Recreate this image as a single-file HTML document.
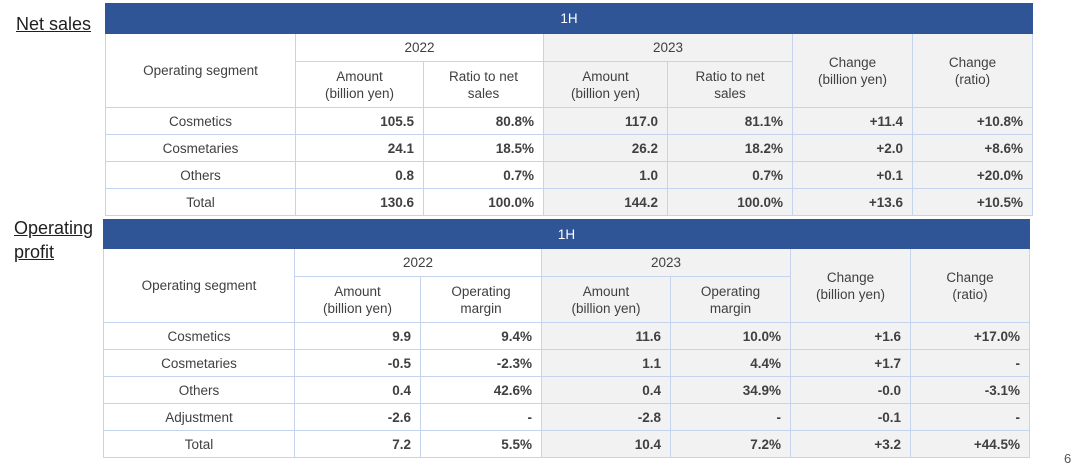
<!DOCTYPE html>
<html><head><meta charset="utf-8"><style>
body{margin:0;width:1080px;height:470px;background:#fff;font-family:"Liberation Sans",sans-serif;position:relative;overflow:hidden;color:#404040}
.t{position:absolute;border-collapse:collapse;table-layout:fixed;font-size:13.5px}
.t td{border:1.5px solid #c5d3ec;padding:0 8px;text-align:center;line-height:17px;overflow:hidden;white-space:nowrap}
.t td.h{background:#2f5597;color:#fff;border-color:#2f5597}
.t td.g{background:#f2f2f2}
.t td.n{text-align:right;font-weight:bold;padding-right:9px}
.lbl{position:absolute;font-size:18px;text-decoration:underline;color:#1f1f1f;line-height:24px}
</style></head><body>
<div class="lbl" style="left:16px;top:12px">Net sales</div>
<div class="lbl" style="left:14px;top:216px">Operating<br>profit</div>
<div style="position:absolute;left:1064px;top:451px;font-size:13px;color:#555">6</div>

<table class="t" style="left:105px;top:3px;width:927px">
<colgroup><col style="width:190px"><col style="width:128px"><col style="width:120px"><col style="width:124px"><col style="width:125px"><col style="width:120px"><col style="width:120px"></colgroup>
<tr style="height:30px"><td class="h" colspan="7">1H</td></tr>
<tr style="height:28px"><td rowspan="2">Operating segment</td><td colspan="2">2022</td><td colspan="2" class="g">2023</td><td rowspan="2" class="g">Change<br>(billion yen)</td><td rowspan="2" class="g">Change<br>(ratio)</td></tr>
<tr style="height:46px"><td>Amount<br>(billion yen)</td><td>Ratio to net<br>sales</td><td class="g">Amount<br>(billion yen)</td><td class="g">Ratio to net<br>sales</td></tr>
<tr style="height:27px"><td>Cosmetics</td><td class="n">105.5</td><td class="n">80.8%</td><td class="n g">117.0</td><td class="n g">81.1%</td><td class="n g">+11.4</td><td class="n g">+10.8%</td></tr>
<tr style="height:27px"><td>Cosmetaries</td><td class="n">24.1</td><td class="n">18.5%</td><td class="n g">26.2</td><td class="n g">18.2%</td><td class="n g">+2.0</td><td class="n g">+8.6%</td></tr>
<tr style="height:27px"><td>Others</td><td class="n">0.8</td><td class="n">0.7%</td><td class="n g">1.0</td><td class="n g">0.7%</td><td class="n g">+0.1</td><td class="n g">+20.0%</td></tr>
<tr style="height:27px"><td>Total</td><td class="n">130.6</td><td class="n">100.0%</td><td class="n g">144.2</td><td class="n g">100.0%</td><td class="n g">+13.6</td><td class="n g">+10.5%</td></tr>
</table>

<table class="t" style="left:103px;top:219px;width:926px">
<colgroup><col style="width:191px"><col style="width:126px"><col style="width:121px"><col style="width:129px"><col style="width:120px"><col style="width:120px"><col style="width:119px"></colgroup>
<tr style="height:29px"><td class="h" colspan="7">1H</td></tr>
<tr style="height:28px"><td rowspan="2">Operating segment</td><td colspan="2">2022</td><td colspan="2" class="g">2023</td><td rowspan="2" class="g">Change<br>(billion yen)</td><td rowspan="2" class="g">Change<br>(ratio)</td></tr>
<tr style="height:46px"><td>Amount<br>(billion yen)</td><td>Operating<br>margin</td><td class="g">Amount<br>(billion yen)</td><td class="g">Operating<br>margin</td></tr>
<tr style="height:27px"><td>Cosmetics</td><td class="n">9.9</td><td class="n">9.4%</td><td class="n g">11.6</td><td class="n g">10.0%</td><td class="n g">+1.6</td><td class="n g">+17.0%</td></tr>
<tr style="height:27px"><td>Cosmetaries</td><td class="n">-0.5</td><td class="n">-2.3%</td><td class="n g">1.1</td><td class="n g">4.4%</td><td class="n g">+1.7</td><td class="n g">-</td></tr>
<tr style="height:27px"><td>Others</td><td class="n">0.4</td><td class="n">42.6%</td><td class="n g">0.4</td><td class="n g">34.9%</td><td class="n g">-0.0</td><td class="n g">-3.1%</td></tr>
<tr style="height:27px"><td>Adjustment</td><td class="n">-2.6</td><td class="n">-</td><td class="n g">-2.8</td><td class="n g">-</td><td class="n g">-0.1</td><td class="n g">-</td></tr>
<tr style="height:27px"><td>Total</td><td class="n">7.2</td><td class="n">5.5%</td><td class="n g">10.4</td><td class="n g">7.2%</td><td class="n g">+3.2</td><td class="n g">+44.5%</td></tr>
</table>
</body></html>
